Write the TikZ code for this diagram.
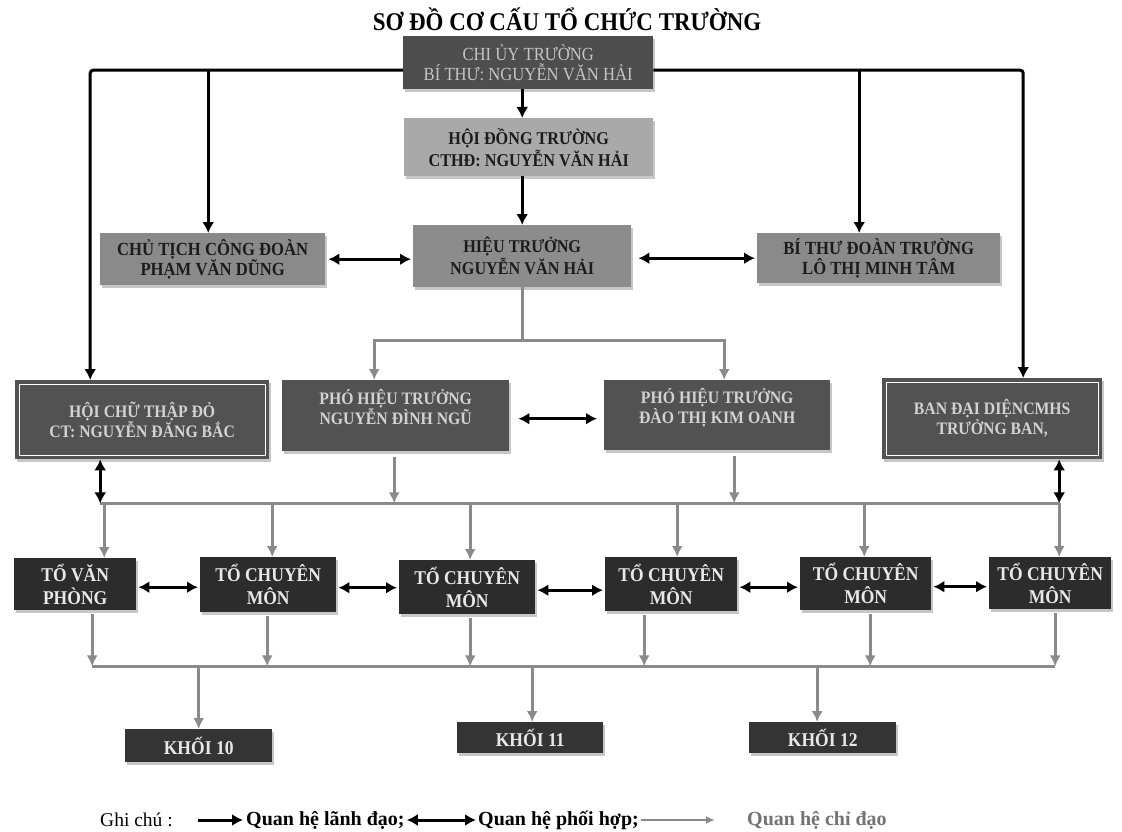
\documentclass[tikz,border=0pt]{standalone}
\usepackage{fontspec}
\setmainfont{Liberation Serif}
\newfontfamily\condf{Liberation Serif}[FakeStretch=0.9]
\usetikzlibrary{arrows.meta,shadows,calc}
\definecolor{cuF}{HTML}{4E4E4E}
\definecolor{cuT}{HTML}{C4C4C4}
\definecolor{hdF}{HTML}{A9A9A9}
\definecolor{htF}{HTML}{8C8C8C}
\definecolor{ctF}{HTML}{8A8A8A}
\definecolor{rtwoF}{HTML}{525252}
\definecolor{rtwoT}{HTML}{D2D2D2}
\definecolor{rthrF}{HTML}{2C2C2C}
\definecolor{rthrT}{HTML}{E8E8E8}
\definecolor{khF}{HTML}{343434}
\definecolor{gline}{HTML}{8A8A8A}
\definecolor{darkT}{HTML}{1C1C1C}
\tikzset{
  bx/.style={anchor=north west, inner sep=0pt, align=center,
    drop shadow={shadow xshift=2pt,shadow yshift=-3pt,fill=black!22,opacity=1}},
  fA/.style={font={\condf\fontsize{18.5}{20}\selectfont}},
  fB/.style={font={\condf\fontsize{18}{22}\selectfont\bfseries}},
  fC/.style={font={\condf\fontsize{18.5}{20}\selectfont\bfseries}},
  fD/.style={font={\condf\fontsize{17.5}{20}\selectfont\bfseries}},
  fE/.style={font={\condf\fontsize{19.5}{23}\selectfont\bfseries}},
  fK/.style={font={\condf\fontsize{19.5}{20}\selectfont\bfseries}},
  lead/.style={draw=black, line width=3pt, -{Latex[length=11pt,width=12pt]}},
  coop/.style={draw=black, line width=3pt, {Latex[length=11pt,width=12pt]}-{Latex[length=11pt,width=12pt]}},
  guide/.style={draw=gline, line width=2.8pt, -{Latex[length=11pt,width=11pt]}},
  gpath/.style={draw=gline, line width=2.8pt},
  legtxt/.style={anchor=west, inner sep=0pt, font={\fontsize{20}{22}\selectfont\bfseries}},
}
\begin{document}
\begin{tikzpicture}[x=1pt,y=-1pt]
\useasboundingbox[fill=white] (0,0) rectangle (1122,832);

% title
\node[font={\condf\fontsize{25.5}{27}\selectfont\bfseries}, inner sep=0pt] (title) at (567,19) {SƠ ĐỒ CƠ CẤU TỔ CHỨC TRƯỜNG};

% top level
\node[bx, fA, fill=cuF, text=cuT, minimum width=250pt, minimum height=53pt] (cu) at (403,36) {CHI ỦY TRƯỜNG\\BÍ THƯ: NGUYỄN VĂN HẢI};
\node[bx, fB, fill=hdF, text=darkT, minimum width=249pt, minimum height=58pt] (hd) at (404,118) {HỘI ĐỒNG TRƯỜNG\\CTHĐ: NGUYỄN VĂN HẢI};
\node[bx, fB, fill=htF, text=darkT, minimum width=218pt, minimum height=62pt] (ht) at (413,225) {HIỆU TRƯỞNG\\NGUYỄN VĂN HẢI};
\node[bx, fC, fill=ctF, text=darkT, minimum width=225pt, minimum height=52pt] (ct) at (100,233) {CHỦ TỊCH CÔNG ĐOÀN\\PHẠM VĂN DŨNG};
\node[bx, fC, fill=ctF, text=darkT, minimum width=243pt, minimum height=50pt] (bt) at (757,233) {BÍ THƯ ĐOÀN TRƯỜNG\\LÔ THỊ MINH TÂM};

% row 2
\node[bx, fD, fill=rtwoF, text=rtwoT, minimum width=254pt, minimum height=79pt] (hc) at (15,380) {HỘI CHỮ THẬP ĐỎ\\CT: NGUYỄN ĐĂNG BẮC};
\node[bx, fD, fill=rtwoF, text=rtwoT, minimum width=227pt, minimum height=71pt, text depth=18pt] (p1) at (282,380) {PHÓ HIỆU TRƯỞNG\\NGUYỄN ĐÌNH NGŨ};
\node[bx, fD, fill=rtwoF, text=rtwoT, minimum width=226pt, minimum height=70pt, text depth=18pt] (p2) at (604,380) {PHÓ HIỆU TRƯỞNG\\ĐÀO THỊ KIM OANH};
\node[bx, fD, fill=rtwoF, text=rtwoT, minimum width=220pt, minimum height=81pt] (ban) at (882,378) {BAN ĐẠI DIỆNCMHS\\TRƯỞNG BAN,};
\draw[white, line width=0.9pt] ([shift={(4,4)}]hc.north west) rectangle ([shift={(-4,-4)}]hc.south east);
\draw[white, line width=0.9pt] ([shift={(4,4)}]ban.north west) rectangle ([shift={(-4,-4)}]ban.south east);

% row 3
\node[bx, fE, fill=rthrF, text=rthrT, minimum width=122pt, minimum height=52pt] (tv) at (14,558) {TỔ VĂN\\PHÒNG};
\node[bx, fE, fill=rthrF, text=rthrT, minimum width=136pt, minimum height=55pt] (m1) at (200,557) {TỔ CHUYÊN\\MÔN};
\node[bx, fE, fill=rthrF, text=rthrT, minimum width=136pt, minimum height=54pt] (m2) at (399,560) {TỔ CHUYÊN\\MÔN};
\node[bx, fE, fill=rthrF, text=rthrT, minimum width=132pt, minimum height=54pt] (m3) at (605,557) {TỔ CHUYÊN\\MÔN};
\node[bx, fE, fill=rthrF, text=rthrT, minimum width=131pt, minimum height=53pt] (m4) at (800,557) {TỔ CHUYÊN\\MÔN};
\node[bx, fE, fill=rthrF, text=rthrT, minimum width=122pt, minimum height=52pt] (m5) at (989,557) {TỔ CHUYÊN\\MÔN};

% khoi
\node[bx, fK, fill=khF, text=rthrT, minimum width=147pt, minimum height=33pt] (k10) at (125,729) {KHỐI 10};
\node[bx, fK, fill=khF, text=rthrT, minimum width=146pt, minimum height=31pt] (k11) at (457,722) {KHỐI 11};
\node[bx, fK, fill=khF, text=rthrT, minimum width=147pt, minimum height=31pt] (k12) at (749,722) {KHỐI 12};

% ---- leadership connectors (black)
\coordinate (tL) at ([shift={(0,7.5)}]cu.west);
\coordinate (tR) at ([shift={(0,7.5)}]cu.east);
\coordinate (hcin) at ([shift={(-52,0)}]hc.north);
\coordinate (banin) at ([shift={(31,0)}]ban.north);
\coordinate (ctin) at ([shift={(-4.5,0)}]ct.north);
\coordinate (btin) at ([shift={(-19.5,0)}]bt.north);
\draw[lead, rounded corners=3pt] (tL) -| (hcin);
\draw[lead, rounded corners=3pt] (tR) -| (banin);
\draw[lead] (ctin |- tL) -- (ctin);
\draw[lead] (btin |- tR) -- (btin);
\draw[lead] (cu.south -| ht.north) -- (hd.north -| ht.north);
\draw[lead] (hd.south -| ht.north) -- (ht.north);

% ---- cooperation (double)
\draw[coop, shorten <=3pt, shorten >=2pt] (ct.east) -- (ct.east -| ht.west);
\draw[coop, shorten <=7pt, shorten >=2pt] (bt.west -| ht.east) -- (bt.west);
\draw[coop, shorten <=9pt, shorten >=7pt] ([shift={(0,3)}]p1.east) -- ([shift={(0,3)}]p1.east -| p2.west);

% ---- HT to deputies (gray)
\coordinate (hj) at ([shift={(0,53)}]ht.south);
\coordinate (p1in) at ([shift={(-21.5,0)}]p1.north);
\coordinate (p2in) at ([shift={(7,0)}]p2.north);
\draw[gpath] (ht.south) -- (hj);
\draw[guide] (hj) -| (p1in);
\draw[guide] (hj) -| (p2in);

% ---- middle bus
\coordinate (hcb) at ([shift={(-42,0)}]hc.south);
\coordinate (mL) at ([shift={(0,44)}]hcb);
\coordinate (banb) at ([shift={(67,0)}]ban.south);
\coordinate (mR) at (banb |- mL);
\draw[gpath] (mL) -- (mR);
\draw[coop] (hcb) -- (mL);
\draw[coop] (banb) -- (mR);
\coordinate (p1b) at ([shift={(-1.5,0)}]p1.south);
\coordinate (p2b) at ([shift={(17,0)}]p2.south);
\draw[guide] ([shift={(0,6)}]p1b) -- (p1b |- mL);
\draw[guide] ([shift={(0,6)}]p2b) -- (p2b |- mL);
\foreach \n/\s in {tv/29,m1/4,m2/3,m3/6,m4/-1.5,m5/9}{
  \coordinate (\n t) at ([shift={(\s,0)}]\n.north);
  \draw[guide] (\n t |- mL) -- (\n t);
}

% ---- row 3 cooperation
\foreach \a/\b in {tv/m1,m1/m2,m2/m3,m3/m4,m4/m5}{
  \draw[coop, shorten <=2pt, shorten >=2pt] ([shift={(0,3)}]\a.east) -- ([shift={(0,3)}]\a.east -| \b.west);
}

% ---- lower bus
\foreach \n/\s in {tv/17,m1/-1,m2/3,m3/-27,m4/4.5,m5/5}{
  \coordinate (\n b) at ([shift={(\s,4)}]\n.south);
}
\coordinate (bL) at ([shift={(0,52)}]tvb);
\coordinate (bR) at (m5b |- bL);
\draw[gpath] (bL) -- (bR);
\foreach \n in {tv,m1,m2,m3,m4,m5}{
  \draw[guide] (\n b) -- (\n b |- bL);
}
\coordinate (k10in) at (k10.north);
\coordinate (k11in) at ([shift={(2,0)}]k11.north);
\coordinate (k12in) at ([shift={(-5.5,0)}]k12.north);
\foreach \k in {k10in,k11in,k12in}{
  \draw[guide] (\k |- bL) -- (\k);
}

% ---- legend
\node[legtxt, font={\fontsize{19.5}{22}\selectfont}] (gc) at (100,820) {Ghi chú :};
\node[legtxt] (q1) at (246,820) {Quan hệ lãnh đạo;};
\node[legtxt] (q2) at (478,820) {Quan hệ phối hợp;};
\node[legtxt, text=black!55] (q3) at (747,820) {Quan hệ chỉ đạo};
\draw[lead] ([xshift=25pt]gc.east) -- ([xshift=-3pt]q1.west);
\draw[coop] ([xshift=2pt]q1.east) -- ([xshift=-2pt]q2.west);
\draw[draw=gline, line width=2pt, -{Latex[length=9pt,width=8pt]}] ([xshift=2pt]q2.east) -- ([xshift=-32pt]q3.west);
\end{tikzpicture}
\end{document}
